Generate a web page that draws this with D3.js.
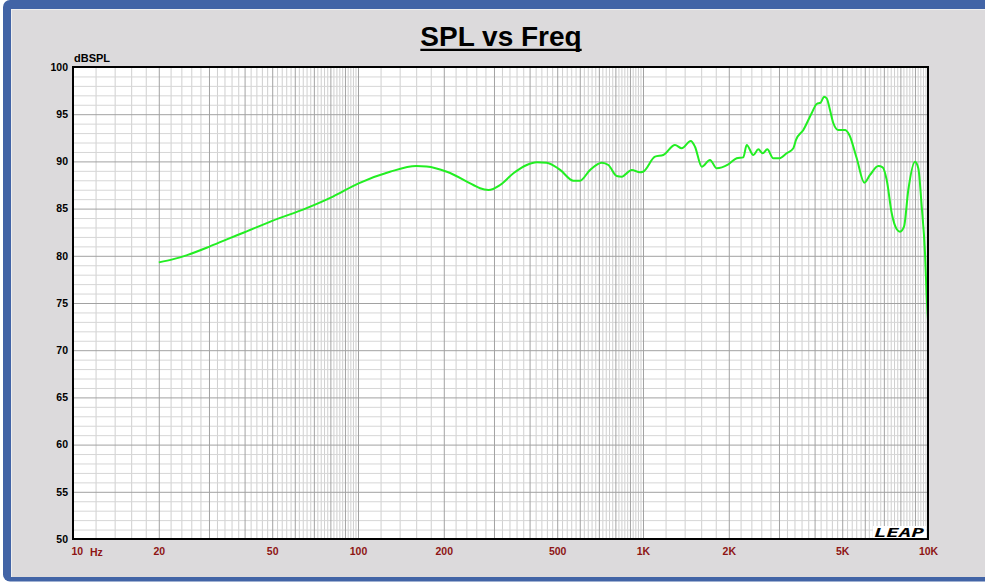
<!DOCTYPE html>
<html>
<head>
<meta charset="utf-8">
<script src="https://cdn.jsdelivr.net/npm/d3@7"></script>
<style>
  html, body { margin: 0; padding: 0; background: #ffffff; }
  svg { display: block; }
</style>
</head>
<body>
<svg id="chart" width="985" height="582"></svg>
<script>
// ---- data ----
const freq = [20, 22.5, 25, 30, 35, 40, 50, 66, 82, 100, 129.5, 160, 174, 205, 254, 268, 287, 315, 351, 391, 424, 459, 512, 570, 601, 652, 717, 756, 808, 842, 913, 976, 1000, 1102, 1178, 1295, 1367, 1471, 1522, 1607, 1718, 1814, 1992, 2132, 2249, 2311, 2438, 2539, 2630, 2729, 2866, 3000, 3192, 3369, 3442, 3652, 3906, 4068, 4201, 4316, 4412, 4530, 4655, 4846, 5114, 5296, 5622, 5978, 6259, 6694, 6934, 7164, 7460, 7768, 7977, 8238, 8528, 9003, 9247, 9506, 9761, 9895, 10000];
const spl = [79.3, 79.65, 80.05, 80.95, 81.8, 82.5, 83.7, 85.05, 86.3, 87.65, 88.9, 89.5, 89.45, 88.9, 87.5, 87.15, 86.97, 87.5, 88.74, 89.62, 89.9, 89.87, 89.1, 87.96, 87.96, 89.1, 89.87, 89.62, 88.45, 88.38, 89.1, 88.85, 88.9, 90.5, 90.68, 91.74, 91.39, 92.16, 91.56, 89.44, 90.15, 89.27, 89.69, 90.33, 90.43, 91.74, 90.68, 91.28, 90.86, 91.28, 90.33, 90.33, 90.86, 91.39, 92.27, 93.33, 95.1, 96.08, 96.22, 96.85, 96.68, 95.44, 94.04, 93.33, 93.33, 92.8, 90.33, 87.75, 88.56, 89.51, 89.37, 88.03, 84.5, 82.81, 82.55, 83.08, 86.97, 89.97, 89.27, 85.2, 80.3, 75.7, 73.2];

const xTickValues = [10, 20, 50, 100, 200, 500, 1000, 2000, 5000, 10000];
const xTickLabels = ["10", "20", "50", "100", "200", "500", "1K", "2K", "5K", "10K"];
const yTickValues = [50, 55, 60, 65, 70, 75, 80, 85, 90, 95, 100];
const titleText = "SPL vs Freq";
const yUnitText = "dBSPL";
const xUnitText = "Hz";

// ---- layout ----
const W = 985, H = 582;
const plot = { left: 73, top: 67, right: 928, bottom: 539 };

const svg = d3.select("#chart");

// frame
svg.append("rect").attr("x", 0).attr("y", 0).attr("width", W).attr("height", H).attr("fill", "#ffffff");
svg.append("rect").attr("x", 3).attr("y", 0).attr("width", W + 20).attr("height", H - 0.5)
  .attr("rx", 7).attr("fill", "#4264a6");
svg.append("rect").attr("x", 11).attr("y", 9).attr("width", W).attr("height", 568)
  .attr("fill", "#dcdadc");
svg.append("line").attr("x1", 11).attr("x2", W).attr("y1", 9.5).attr("y2", 9.5)
  .attr("stroke", "#eeeeee").attr("stroke-width", 1);
svg.append("line").attr("x1", 11.5).attr("x2", 11.5).attr("y1", 9).attr("y2", 577)
  .attr("stroke", "#eeeeee").attr("stroke-width", 1);

// scales
const x = d3.scaleLog().domain([10, 10000]).range([plot.left, plot.right]);
const y = d3.scaleLinear().domain([50, 100]).range([plot.bottom, plot.top]);

const g = svg.append("g");
g.append("rect").attr("x", plot.left).attr("y", plot.top)
  .attr("width", plot.right - plot.left).attr("height", plot.bottom - plot.top)
  .attr("fill", "#ffffff");

// grid values
const minorX = [], majorX = [];
[10, 100, 1000].forEach(d => {
  for (let k = 5; k < 50; k++) {
    const m = k / 5;
    const v = d * m;
    if (k % 5 === 0) majorX.push(v); else minorX.push(v);
  }
});
const minorY = [], majorY = [];
for (let v = 51; v < 100; v++) { if (v % 5 === 0) majorY.push(v); else minorY.push(v); }

const h = plot.bottom - plot.top, w = plot.right - plot.left;

g.append("g").attr("transform", `translate(0,${plot.bottom})`)
  .call(d3.axisBottom(x).tickValues(minorX).tickSize(-h).tickFormat(""))
  .call(s => s.select(".domain").remove())
  .call(s => s.selectAll("line").attr("stroke", "#cfcfcf"));
g.append("g").attr("transform", `translate(${plot.left},0)`)
  .call(d3.axisLeft(y).tickValues(minorY).tickSize(-w).tickFormat(""))
  .call(s => s.select(".domain").remove())
  .call(s => s.selectAll("line").attr("stroke", "#d6d6d6"));
g.append("g").attr("transform", `translate(0,${plot.bottom})`)
  .call(d3.axisBottom(x).tickValues(majorX).tickSize(-h).tickFormat(""))
  .call(s => s.select(".domain").remove())
  .call(s => s.selectAll("line").attr("stroke", "#a2a2a2"));
g.append("g").attr("transform", `translate(${plot.left},0)`)
  .call(d3.axisLeft(y).tickValues(majorY).tickSize(-w).tickFormat(""))
  .call(s => s.select(".domain").remove())
  .call(s => s.selectAll("line").attr("stroke", "#a2a2a2"));

// LEAP logo
g.append("rect").attr("x", 873).attr("y", 526).attr("width", 53).attr("height", 12).attr("fill", "#ffffff");
g.append("text").attr("x", 874).attr("y", 536.5)
  .attr("textLength", 50).attr("lengthAdjust", "spacingAndGlyphs")
  .attr("font-family", "'DejaVu Sans Mono', monospace").attr("font-weight", "bold")
  .attr("font-style", "italic").attr("font-size", 12).attr("fill", "#000")
  .text("LEAP");

// curve
svg.append("clipPath").attr("id", "clip").append("rect")
  .attr("x", plot.left).attr("y", plot.top).attr("width", w).attr("height", h);
const pts = freq.map((f, i) => [f, spl[i]]);
const line = d3.line().x(d => x(d[0])).y(d => y(d[1])).curve(d3.curveMonotoneX);
g.append("path").datum(pts).attr("d", line)
  .attr("fill", "none").attr("stroke", "#22ee22").attr("stroke-width", 2)
  .attr("stroke-linejoin", "round").attr("clip-path", "url(#clip)");

// plot frame
g.append("rect").attr("x", plot.left).attr("y", plot.top)
  .attr("width", w).attr("height", h)
  .attr("fill", "none").attr("stroke", "#000").attr("stroke-width", 2);

// axes labels
const yAx = svg.append("g").attr("transform", `translate(${plot.left},0)`)
  .call(d3.axisLeft(y).tickValues(yTickValues).tickSize(0).tickPadding(5).tickFormat(d3.format("d")));
yAx.select(".domain").remove();
yAx.selectAll("text").attr("font-family", "'Liberation Sans', Arial, sans-serif")
  .attr("font-weight", "bold").attr("font-size", 10.5).attr("fill", "#000");

const xAx = svg.append("g").attr("transform", `translate(0,${plot.bottom})`)
  .call(d3.axisBottom(x).tickValues(xTickValues).tickSize(0).tickPadding(8.5)
    .tickFormat((d, i) => xTickLabels[i]));
xAx.select(".domain").remove();
xAx.selectAll("text").attr("font-family", "'Liberation Sans', Arial, sans-serif")
  .attr("font-weight", "bold").attr("font-size", 10.5).attr("fill", "#8e1414");
xAx.selectAll("text").filter(d => d === 10).attr("text-anchor", "start").attr("dx", -2);
svg.append("text").attr("x", 90).attr("y", 555.5)
  .attr("font-family", "'Liberation Sans', Arial, sans-serif")
  .attr("font-weight", "bold").attr("font-size", 10.5).attr("fill", "#8e1414")
  .text(xUnitText);

svg.append("text").attr("x", 74).attr("y", 61.5)
  .attr("font-family", "'Liberation Sans', Arial, sans-serif")
  .attr("font-weight", "bold").attr("font-size", 11).attr("fill", "#000")
  .text(yUnitText);

// title
const title = svg.append("text").attr("x", 501).attr("y", 45.5).attr("text-anchor", "middle")
  .attr("font-family", "'Liberation Sans', Arial, sans-serif")
  .attr("font-weight", "bold").attr("font-size", 28).attr("fill", "#000")
  .text(titleText);
const bb = title.node().getBBox();
svg.append("line").attr("x1", bb.x).attr("x2", bb.x + bb.width)
  .attr("y1", 49.8).attr("y2", 49.8).attr("stroke", "#000").attr("stroke-width", 2.2);
</script>
</body>
</html>
